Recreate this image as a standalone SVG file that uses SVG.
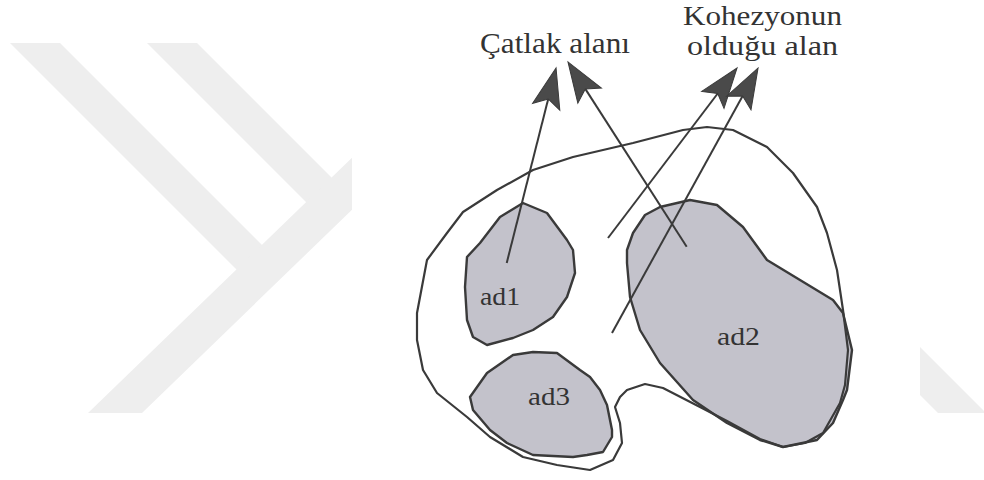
<svg xmlns="http://www.w3.org/2000/svg" width="984" height="480" viewBox="0 0 984 480">
  <defs>
    <style>
      .wm { fill: #eeeeee; stroke: none; }
      .blob { fill: #c3c2cb; stroke: #3a3a3a; stroke-width: 2.4; stroke-linejoin: round; }
      .outline { fill: none; stroke: #3a3a3a; stroke-width: 2.2; stroke-linejoin: round; }
      .conn { fill: none; stroke: #3a3a3a; stroke-width: 2; marker-end: url(#head); }
      .lbl { font-family: "Liberation Serif", "Times New Roman", serif; fill: #333333; }
      .big { font-size: 29px; }
      .mid { font-size: 26.5px; }
      .small { font-size: 26px; }
    </style>
    <marker id="head" markerUnits="userSpaceOnUse" markerWidth="44" markerHeight="32" refX="8" refY="14" orient="auto" overflow="visible">
      <path d="M0,0 L40,14 L0,28 L8,14 Z" fill="#4a4a4a" stroke="#3a3a3a" stroke-width="1"/>
    </marker>
    <clipPath id="leftclip"><rect x="0" y="0" width="352" height="413"/></clipPath>
  </defs>
  <rect width="984" height="480" fill="#ffffff"/>
  <g id="watermark">
    <g clip-path="url(#leftclip)">
      <polygon class="wm" points="10,43 60,43 272,255 245,278"/>
      <polygon class="wm" points="147,43 197,43 345,191 318,214"/>
      <polygon class="wm" points="88,413 142,413 360,202 360,150"/>
    </g>
    <polygon class="wm" points="920,347 984,411 984,413 938,413 920,395"/>
  </g>
  <g id="ad1">
    <path class="blob" d="M480,243 L500,217 L523,203 L547,213 L567,240 L573,250 L575,273 L567,297 L553,317 L533,330 L513,338 L487,345 L473,337 L467,320 L465,287 L467,257 Z"/>
    <text class="lbl small" x="480" y="305" textLength="40" lengthAdjust="spacingAndGlyphs">ad1</text>
  </g>
  <g id="ad2">
    <path class="blob" d="M627,250 L633,233 L645,215 L660,207 L690,200 L717,205 L743,227 L767,260 L800,280 L833,300 L843,313 L852,350 L847,390 L843,400 L833,423 L817,440 L783,447 L760,440 L727,423 L693,400 L660,363 L640,330 L630,297 L627,263 Z"/>
    <text class="lbl small" x="717" y="345" textLength="43" lengthAdjust="spacingAndGlyphs">ad2</text>
  </g>
  <g id="ad3">
    <path class="blob" d="M470,397 L487,373 L513,355 L533,352 L557,353 L580,370 L590,377 L600,390 L607,405 L612,430 L612,437 L603,452 L587,455 L573,457 L533,455 L507,443 L490,430 L473,410 Z"/>
    <text class="lbl small" x="528" y="405" textLength="42" lengthAdjust="spacingAndGlyphs">ad3</text>
  </g>
  <g id="boundary">
    <path class="outline" d="M447,233 L463,212 L497,190 L533,170 L573,157 L633,143 L683,130 L707,127 L733,130 L767,147 L793,173 L817,207 L827,233 L837,270 L843,310 L848,350 L845,385 L840,403 L823,433 L805,443 L783,447 L760,439 L727,421 L700,407 L663,388 L645,384 L627,390 L620,397 L615,407 L620,423 L622,443 L613,460 L590,470 L557,465 L523,457 L490,437 L467,417 L437,393 L423,370 L417,340 L417,313 L427,260 Z"/>
  </g>
  <g id="connectors">
    <line class="conn" x1="506.7" y1="263" x2="548.2" y2="99"/>
    <line class="conn" x1="686.7" y1="246.7" x2="585.3" y2="88.9"/>
    <line class="conn" x1="608" y1="238" x2="717.7" y2="93.5"/>
    <line class="conn" x1="612" y1="333" x2="742.6" y2="96"/>
  </g>
  <g id="label-catlak">
    <text class="lbl big" x="555" y="53" text-anchor="middle" textLength="150" lengthAdjust="spacingAndGlyphs">Çatlak alanı</text>
  </g>
  <g id="label-kohezyon">
    <text class="lbl mid" text-anchor="middle"><tspan x="762.5" y="25" textLength="159" lengthAdjust="spacingAndGlyphs">Kohezyonun</tspan><tspan x="762.5" y="55" textLength="151" lengthAdjust="spacingAndGlyphs">olduğu alan</tspan></text>
  </g>
</svg>
